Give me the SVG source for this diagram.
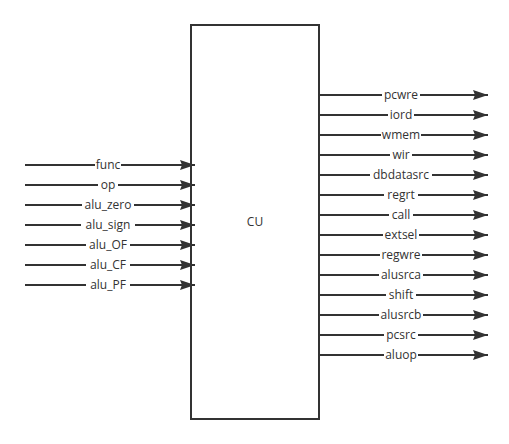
<svg xmlns="http://www.w3.org/2000/svg" width="509" height="444" viewBox="0 0 509 444">
<defs>
<marker id="arr" markerWidth="16" markerHeight="12" viewBox="0 0 16 12" refX="15" refY="6" markerUnits="userSpaceOnUse" orient="auto">
<path d="M0,1 L15,6 L0,11 L2,6 Z" fill="#333333"/>
</marker>
</defs>
<style>
.c{stroke:#333333;stroke-width:2;fill:none;marker-end:url(#arr)}
.l{font-family:"Open Sans","Noto Sans CJK SC",sans-serif;font-size:12px;fill:#333333;text-anchor:middle}
.bg{fill:#ffffff}
</style>
<rect width="509" height="444" fill="#ffffff"/>
<g id="connectors">
<line class="c" x1="25" y1="165" x2="195" y2="165"/>
<line class="c" x1="25" y1="185" x2="195" y2="185"/>
<line class="c" x1="25" y1="205" x2="195" y2="205"/>
<line class="c" x1="25" y1="225" x2="195" y2="225"/>
<line class="c" x1="25" y1="245" x2="195" y2="245"/>
<line class="c" x1="25" y1="265" x2="195" y2="265"/>
<line class="c" x1="25" y1="285" x2="195" y2="285"/>
<line class="c" x1="319" y1="95" x2="488" y2="95"/>
<line class="c" x1="319" y1="115" x2="488" y2="115"/>
<line class="c" x1="319" y1="135" x2="488" y2="135"/>
<line class="c" x1="319" y1="155" x2="488" y2="155"/>
<line class="c" x1="319" y1="175" x2="488" y2="175"/>
<line class="c" x1="319" y1="195" x2="488" y2="195"/>
<line class="c" x1="319" y1="215" x2="488" y2="215"/>
<line class="c" x1="319" y1="235" x2="488" y2="235"/>
<line class="c" x1="319" y1="255" x2="488" y2="255"/>
<line class="c" x1="319" y1="275" x2="488" y2="275"/>
<line class="c" x1="319" y1="295" x2="488" y2="295"/>
<line class="c" x1="319" y1="315" x2="488" y2="315"/>
<line class="c" x1="319" y1="335" x2="488" y2="335"/>
<line class="c" x1="319" y1="355" x2="488" y2="355"/>
</g>
<g id="labels">
<rect class="bg" x="95" y="158" width="26" height="14"/><text class="l" x="108" y="169">func</text>
<rect class="bg" x="98" y="178" width="20" height="14"/><text class="l" x="108" y="189">op</text>
<rect class="bg" x="82" y="198" width="52" height="14"/><text class="l" x="108" y="209">alu_zero</text>
<rect class="bg" x="81" y="218" width="54" height="14"/><text class="l" x="108" y="229">alu_sign</text>
<rect class="bg" x="86" y="238" width="44" height="14"/><text class="l" x="108" y="249">alu_OF</text>
<rect class="bg" x="86" y="258" width="44" height="14"/><text class="l" x="108" y="269">alu_CF</text>
<rect class="bg" x="86" y="278" width="44" height="14"/><text class="l" x="108" y="289">alu_PF</text>
<rect class="bg" x="382" y="88" width="38" height="14"/><text class="l" x="401" y="99">pcwre</text>
<rect class="bg" x="388" y="108" width="26" height="14"/><text class="l" x="401" y="119">iord</text>
<rect class="bg" x="381" y="128" width="40" height="14"/><text class="l" x="401" y="139">wmem</text>
<rect class="bg" x="390" y="148" width="22" height="14"/><text class="l" x="401" y="159">wir</text>
<rect class="bg" x="370" y="168" width="62" height="14"/><text class="l" x="401" y="179">dbdatasrc</text>
<rect class="bg" x="384" y="188" width="34" height="14"/><text class="l" x="401" y="199">regrt</text>
<rect class="bg" x="389" y="208" width="24" height="14"/><text class="l" x="401" y="219">call</text>
<rect class="bg" x="383" y="228" width="36" height="14"/><text class="l" x="401" y="239">extsel</text>
<rect class="bg" x="380" y="248" width="42" height="14"/><text class="l" x="401" y="259">regwre</text>
<rect class="bg" x="379" y="268" width="44" height="14"/><text class="l" x="401" y="279">alusrca</text>
<rect class="bg" x="386" y="288" width="30" height="14"/><text class="l" x="401" y="299">shift</text>
<rect class="bg" x="379" y="308" width="44" height="14"/><text class="l" x="401" y="319">alusrcb</text>
<rect class="bg" x="384" y="328" width="34" height="14"/><text class="l" x="401" y="339">pcsrc</text>
<rect class="bg" x="384" y="348" width="34" height="14"/><text class="l" x="401" y="359">aluop</text>
</g>
<g id="cu">
<rect x="191" y="25" width="128" height="394" fill="#ffffff" fill-opacity="0" stroke="#333333" stroke-width="2"/>
<text class="l" x="255" y="226">CU</text>
</g>
</svg>
